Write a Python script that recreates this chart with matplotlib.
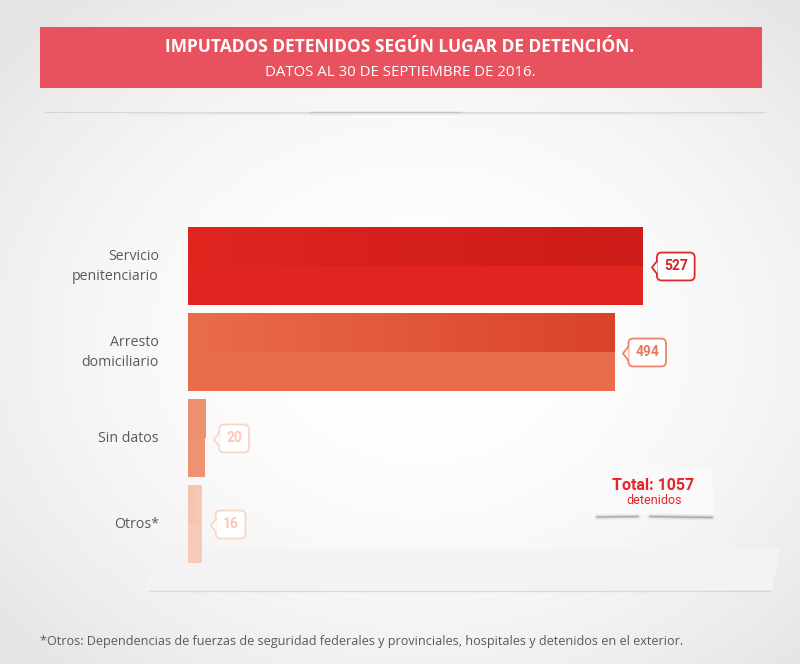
import numpy as np
import matplotlib
matplotlib.use("Agg")
import matplotlib.pyplot as plt
import matplotlib.transforms as mtransforms
from matplotlib.patches import Rectangle, Polygon
from matplotlib.colors import LinearSegmentedColormap
from matplotlib.path import Path

# data
categories = ["Servicio\npenitenciario", "Arresto\ndomiciliario", "Sin datos", "Otros*"]
values = [527, 494, 20, 16]
total = 1057

title = "IMPUTADOS DETENIDOS SEGÚN LUGAR DE DETENCIÓN."
subtitle = "DATOS AL 30 DE SEPTIEMBRE DE 2016."
footnote = "*Otros: Dependencias de fuerzas de seguridad federales y provinciales, hospitales y detenidos en el exterior."

# styles
bottom_colors = ["#e0241f", "#e96d4c", "#ee9271", "#f7cab7"]
top_left = ["#e0251f", "#e96d4c", "#ed8e6d", "#f5c3ae"]
top_right = ["#cc1b18", "#da4229", "#ee9271", "#f7cab7"]
label_colors = ["#d42126", "#e8785b", "#f8c9b5", "#f8c9b5"]
box_colors = ["#e0272a", "#ec8468", "#f9d6c7", "#f9d6c7"]

W, H = 800, 664
fig = plt.figure(figsize=(W / 100, H / 100), dpi=100)

# background axes in pixel coords
bg = fig.add_axes([0, 0, 1, 1])
bg.set_xlim(0, W)
bg.set_ylim(H, 0)
bg.axis("off")

yy, xx = np.mgrid[0:H, 0:W]
r = np.sqrt(((xx - 420) / 520.0) ** 2 + ((yy - 340) / 420.0) ** 2)
shade = np.clip(1.0 - 0.09 * r ** 2, 0.90, 1.0)
bg.imshow(np.dstack([shade, shade, shade]), extent=[0, W, H, 0], aspect="auto", zorder=0)

# title banner
bg.add_patch(Rectangle((40, 27), 722, 61, facecolor="#e8525f", edgecolor="none", zorder=1))
bg.text(400, 47, title, ha="center", va="center", color="white",
        fontsize=12.5, fontweight="bold", family="Open Sans", zorder=2)
bg.text(400, 72, subtitle, ha="center", va="center", color="white",
        fontsize=10.8, family="Open Sans", zorder=2)

# separator line
bg.plot([45, 765], [112, 112], color="#d6d6d6", lw=0.8, zorder=1)
bg.plot([130, 760], [114, 114], color="#e8e8e8", lw=1.2, zorder=1)
bg.plot([310, 460], [112, 112], color="#c4c4c4", lw=1.0, zorder=1)

# floor
bg.add_patch(Polygon([[160, 549], [780, 549], [772, 590], [143, 590]],
                     closed=True, facecolor="#f3f3f3", edgecolor="none", zorder=1))
bg.plot([150, 770], [591, 591], color="#d8d8d8", lw=1.0, zorder=1)

# total card
bg.add_patch(Polygon([[592, 470], [712, 468], [714, 514], [594, 516]],
                     closed=True, facecolor="#faf8f8", edgecolor="none", zorder=1))
for lw, a in [(4, 0.08), (2, 0.15), (1, 0.3)]:
    bg.plot([597, 638], [517, 516.5], color="#555555", lw=lw, alpha=a,
            solid_capstyle="round", zorder=1)
    bg.plot([650, 712], [516.5, 517.5], color="#555555", lw=lw, alpha=a,
            solid_capstyle="round", zorder=1)
bg.text(653, 486, f"Total: {total}", ha="center", va="center", color="#e3262a",
        fontsize=11.5, fontweight="bold", family="Roboto", zorder=2)
bg.text(654, 501, "detenidos", ha="center", va="center", color="#e3262a",
        fontsize=9, family="Roboto", zorder=2)

# footnote
bg.text(40, 641, footnote, ha="left", va="center", color="#5a5a5a",
        fontsize=9.1, family="Open Sans", zorder=2)

# chart axes: x from 188px, 0.8634 px per unit; rows 86px apart
px_per_unit = 455 / 527
xmax = 600
ax_left = 188 / W
ax_width = xmax * px_per_unit / W
ax_top = 223.5
ax_h = 344
ax = fig.add_axes([ax_left, (H - ax_top - ax_h) / H, ax_width, ax_h / H])
ax.set_xlim(0, xmax)
ax.set_ylim(3.5, -0.5)
ax.axis("off")
ax.patch.set_alpha(0)

bar_h = 0.9
y = np.arange(len(categories))
ax.barh(y, values, height=bar_h, color=bottom_colors, zorder=1)

# darker gradient on the upper half of each bar
for i, v in enumerate(values):
    cmap = LinearSegmentedColormap.from_list("g", [top_left[i], top_right[i]])
    grad = np.linspace(0, 1, 256).reshape(1, -1)
    ax.imshow(grad, cmap=cmap, extent=[0, v, i, i - bar_h / 2],
              aspect="auto", zorder=2, interpolation="bilinear")
ax.set_xlim(0, xmax)
ax.set_ylim(3.5, -0.5)

# category labels
for i, c in enumerate(categories):
    ax.annotate(c, xy=(0, i), xytext=(-21, 0), textcoords="offset points",
                ha="right", va="center", color="#5a5a5a", fontsize=10.2,
                family="Open Sans", linespacing=1.5)

# value callouts
notch = Path([(0.0, 1.0), (-0.8, 0.0), (0.0, -1.0)],
             [Path.MOVETO, Path.LINETO, Path.LINETO])
shift = mtransforms.ScaledTranslation(10 / 72, 0, fig.dpi_scale_trans)
for i, v in enumerate(values):
    ax.annotate(str(v), xy=(v, i), xytext=(15, 0), textcoords="offset points",
                ha="left", va="center", color=label_colors[i], fontsize=10,
                fontweight="bold", family="Roboto", zorder=5,
                bbox=dict(boxstyle="round,pad=0.5,rounding_size=0.35",
                          fc="white", ec=box_colors[i], lw=1.3))
    ax.plot([v], [i], marker=notch, markersize=10, markerfacecolor="white",
            markeredgecolor=box_colors[i], markeredgewidth=1.3,
            transform=ax.transData + shift, zorder=6, clip_on=False)

fig.savefig("out.png", dpi=100)
